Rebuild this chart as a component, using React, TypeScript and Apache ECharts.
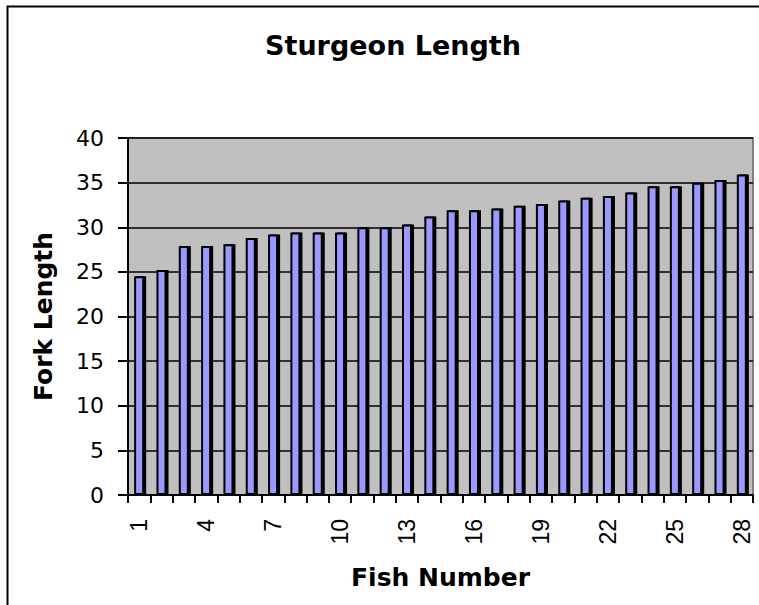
import React, { useEffect, useRef } from "react";
import * as echarts from "echarts";

const fishNumbers: string[] = [
  "1", "2", "3", "4", "5", "6", "7", "8", "9", "10", "11", "12", "13", "14",
  "15", "16", "17", "18", "19", "20", "21", "22", "23", "24", "25", "26", "27", "28",
];
const forkLengths: number[] = [
  24.5, 25.2, 27.9, 27.9, 28.1, 28.8, 29.2, 29.4, 29.4, 29.4, 30.0, 30.0, 30.3, 31.2,
  31.9, 31.9, 32.1, 32.4, 32.6, 33.0, 33.3, 33.5, 33.9, 34.6, 34.6, 35.0, 35.3, 35.9,
];
const titleText = "Sturgeon Length";
const xName = "Fish Number";
const yName = "Fork Length";

export default function App() {
  const ref = useRef<HTMLDivElement>(null);
  useEffect(() => {
    document.body.style.margin = "0";
    if (!ref.current) return;
    const chart = echarts.init(ref.current, undefined, { renderer: "svg" });
    chart.setOption({
      animation: false,
      backgroundColor: "#ffffff",
      title: {
        text: titleText,
        left: 388,
        top: 27,
        textAlign: "center",
        textStyle: {
          fontFamily: "DejaVu Sans",
          fontWeight: "bold",
          fontSize: 27,
          color: "#000",
        },
      },
      graphic: [
        {
          type: "rect",
          shape: { x: 7.5, y: 6.5, width: 900, height: 900 },
          style: { fill: "none", stroke: "#000", lineWidth: 2 },
          silent: true,
          z: 100,
        },
      ],
      grid: {
        left: 128,
        top: 138,
        width: 625,
        height: 357,
        show: true,
        backgroundColor: "#c0c0c0",
        borderColor: "#808080",
        borderWidth: 2,
      },
      xAxis: {
        type: "category",
        data: fishNumbers,
        name: xName,
        nameLocation: "middle",
        nameGap: 70,
        nameTextStyle: {
          fontFamily: "DejaVu Sans",
          fontWeight: "bold",
          fontSize: 25,
          color: "#000",
        },
        axisLine: { lineStyle: { color: "#000", width: 2 } },
        axisTick: { show: true, interval: 0, length: 8, lineStyle: { color: "#000", width: 2 } },
        axisLabel: {
          interval: 2,
          rotate: 90,
          margin: 24,
          fontFamily: "Liberation Sans",
          fontSize: 23,
          color: "#000",
        },
        splitLine: { show: false },
      },
      yAxis: {
        type: "value",
        min: 0,
        max: 40,
        interval: 5,
        name: yName,
        nameLocation: "middle",
        nameGap: 72,
        nameTextStyle: {
          fontFamily: "DejaVu Sans",
          fontWeight: "bold",
          fontSize: 25,
          color: "#000",
        },
        axisLine: { show: true, lineStyle: { color: "#000", width: 2 } },
        axisTick: { show: true, length: 10, lineStyle: { color: "#000", width: 2 } },
        axisLabel: {
          margin: 24,
          fontFamily: "DejaVu Sans",
          fontSize: 22,
          color: "#000",
        },
        splitLine: { show: true, lineStyle: { color: "#000", width: 1.5 } },
      },
      series: [
        {
          type: "bar",
          data: forkLengths,
          barWidth: "45%",
          itemStyle: {
            color: "#9999ff",
            borderColor: "#000",
            borderWidth: 2,
            shadowColor: "#000",
            shadowOffsetX: 2,
            shadowOffsetY: 0,
            shadowBlur: 0,
          },
        },
      ],
    });
    return () => chart.dispose();
  }, []);
  return <div ref={ref} style={{ width: 759, height: 605 }} />;
}
